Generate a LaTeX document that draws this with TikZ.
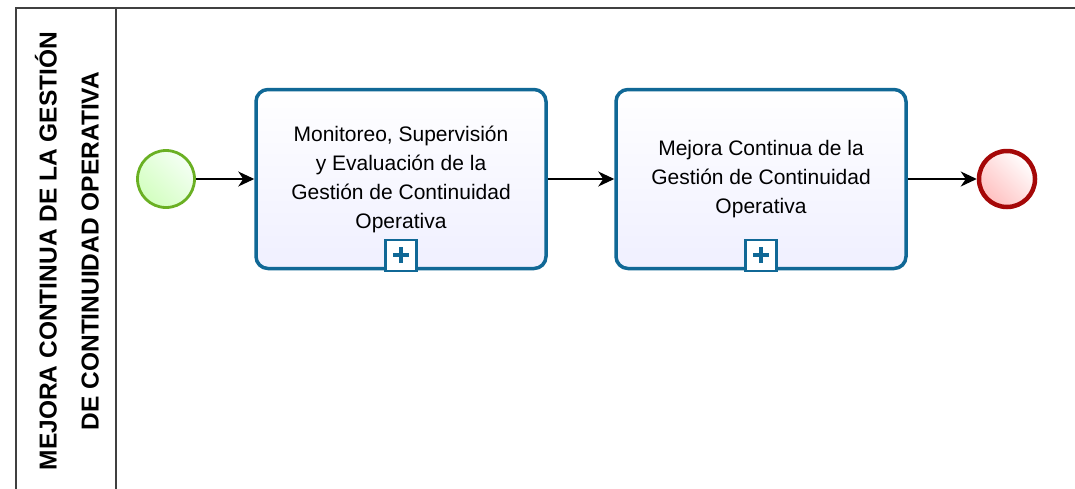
\documentclass[tikz,border=0pt]{standalone}
\usepackage{fontspec}
\setmainfont{Liberation Sans}
\usetikzlibrary{arrows.meta}
\definecolor{taskblue}{RGB}{16,104,150}
\definecolor{startgreen}{RGB}{106,176,35}
\definecolor{endred}{RGB}{165,8,8}
\tikzset{
	task/.style={draw=taskblue, line width=3.5pt, rounded corners=12pt, minimum width=290pt, minimum height=179pt, top color=white, bottom color=blue!6, align=center, font=\fontsize{21}{29}\selectfont},
	plusbox/.style={draw=taskblue, line width=2.2pt, fill=white, minimum size=31pt, inner sep=0pt, anchor=south},
	flow/.style={-{Stealth[length=16pt, width=15pt, inset=5pt]}, line width=1.4pt, black},
}
\begin{document}
\begin{tikzpicture}[x=1pt, y=-1pt]
		%%%%% START %%%%%
		
		\clip (0, 0) rectangle (1075, 488);
		\fill[white] (0, 0) rectangle (1075, 488);
		
		\draw[line width=2pt, color=black!75] (16, 8) rectangle (1090, 500);
		\draw[line width=2pt, color=black!75] (116, 8) -- (116, 500);
		\node[rotate=90, align=center, font=\fontsize{24.5}{42}\selectfont\bfseries] (lane) at (67, 251) {MEJORA CONTINUA DE LA GESTIÓN\\DE CONTINUIDAD OPERATIVA};
		
		\node[circle, draw=startgreen, line width=2.8pt, minimum size=57pt, inner sep=0pt, top color=green!4!white, bottom color=yellow!30!green!25, shading angle=-45] (start) at (166, 179) {};
		
		\node[task] (monitor) at (401, 179) {Monitoreo, Supervisión\\y Evaluación de la\\Gestión de Continuidad\\Operativa};
		\node[plusbox] (mplus) at ([yshift=-1.5pt]monitor.south) {};
		\draw[taskblue, line width=4pt] ([xshift=-8pt]mplus.center) -- ([xshift=8pt]mplus.center);
		\draw[taskblue, line width=4pt] ([yshift=-8pt]mplus.center) -- ([yshift=8pt]mplus.center);
		
		\node[task] (mejora) at (761, 179) {Mejora Continua de la\\Gestión de Continuidad\\Operativa};
		\node[plusbox] (jplus) at ([yshift=-1.5pt]mejora.south) {};
		\draw[taskblue, line width=4pt] ([xshift=-8pt]jplus.center) -- ([xshift=8pt]jplus.center);
		\draw[taskblue, line width=4pt] ([yshift=-8pt]jplus.center) -- ([yshift=8pt]jplus.center);
		
		\node[circle, draw=endred, line width=4.5pt, minimum size=56pt, inner sep=0pt, top color=white, bottom color=red!25, shading angle=-45] (end) at (1007, 179) {};
		
		\draw[flow] (start) -- (monitor);
		\draw[flow] (monitor) -- (mejora);
		\draw[flow] (mejora) -- (end);
		
		%%%%% END %%%%%
	\end{tikzpicture}
\end{document}
